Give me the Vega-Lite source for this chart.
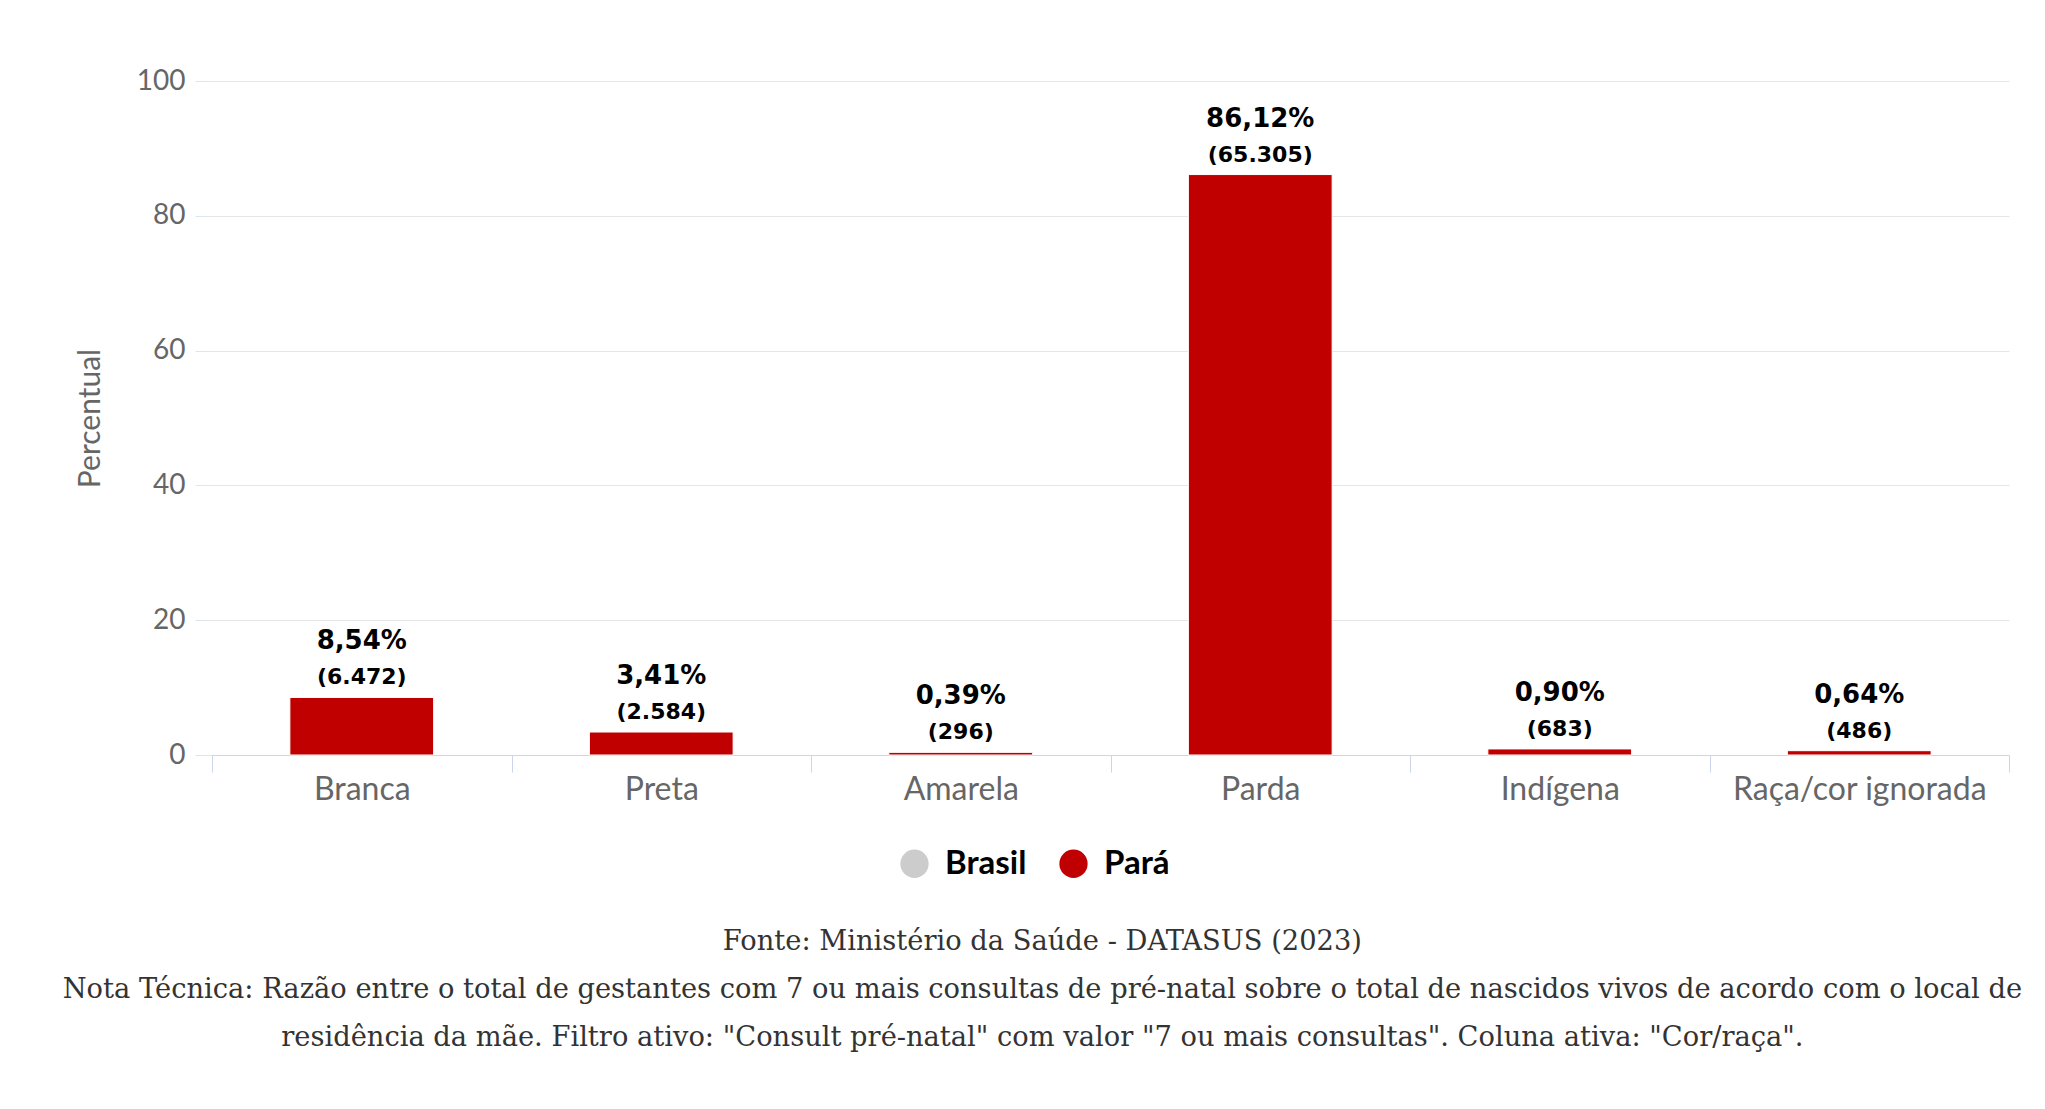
{
  "$schema": "https://vega.github.io/schema/vega-lite/v6.json",
  "width": 1797,
  "height": 674,
  "autosize": "none",
  "padding": {"left": 212, "top": 81, "right": 36, "bottom": 354},
  "background": "#ffffff",
  "config": {
    "view": {"stroke": null},
    "font": "Lato"
  },
  "title": {
    "text": "Fonte: Ministério da Saúde - DATASUS (2023)",
    "subtitle": [
      "Nota Técnica: Razão entre o total de gestantes com 7 ou mais consultas de pré-natal sobre o total de nascidos vivos de acordo com o local de",
      "residência da mãe. Filtro ativo: \"Consult pré-natal\" com valor \"7 ou mais consultas\". Coluna ativa: \"Cor/raça\"."
    ],
    "orient": "bottom",
    "anchor": "middle",
    "frame": "bounds",
    "offset": 47,
    "font": "DejaVu Serif",
    "fontSize": 27.3,
    "fontWeight": "normal",
    "color": "#333333",
    "subtitleFont": "DejaVu Serif",
    "subtitleFontSize": 27.3,
    "subtitleColor": "#333333",
    "subtitleLineHeight": 48,
    "subtitlePadding": 21
  },
  "data": {
    "values": [
      {"cor": "Branca", "serie": "Pará", "pct": 8.54, "pct_txt": "8,54%", "n_txt": "(6.472)"},
      {"cor": "Preta", "serie": "Pará", "pct": 3.41, "pct_txt": "3,41%", "n_txt": "(2.584)"},
      {"cor": "Amarela", "serie": "Pará", "pct": 0.39, "pct_txt": "0,39%", "n_txt": "(296)"},
      {"cor": "Parda", "serie": "Pará", "pct": 86.12, "pct_txt": "86,12%", "n_txt": "(65.305)"},
      {"cor": "Indígena", "serie": "Pará", "pct": 0.90, "pct_txt": "0,90%", "n_txt": "(683)"},
      {"cor": "Raça/cor ignorada", "serie": "Pará", "pct": 0.64, "pct_txt": "0,64%", "n_txt": "(486)"}
    ]
  },
  "encoding": {
    "x": {
      "field": "cor",
      "type": "nominal",
      "sort": null,
      "scale": {"paddingInner": 0, "paddingOuter": 0},
      "axis": {
        "title": null,
        "labelAngle": 0,
        "labelFont": "Lato",
        "labelFontSize": 32,
        "labelColor": "#666666",
        "labelPadding": 2,
        "labelLimit": 400,
        "tickBand": "extent",
        "tickSize": 17,
        "tickColor": "#ccd6eb",
        "domainColor": "#ccd6eb",
        "grid": false
      }
    },
    "y": {
      "field": "pct",
      "type": "quantitative",
      "scale": {"domain": [0, 100]},
      "axis": {
        "title": "Percentual",
        "titleFont": "Lato",
        "titleFontSize": 30,
        "titleFontWeight": "normal",
        "titleColor": "#666666",
        "titlePadding": 31,
        "values": [0, 20, 40, 60, 80, 100],
        "labelFont": "Lato",
        "labelFontSize": 28,
        "labelColor": "#666666",
        "labelPadding": 10,
        "domain": false,
        "tickSize": 17,
        "tickColor": "#dfe5ee",
        "gridColor": "#e6e6e6"
      }
    }
  },
  "layer": [
    {
      "mark": {"type": "bar", "width": {"band": 0.48}, "stroke": "#ffffff", "strokeWidth": 1},
      "encoding": {
        "color": {
          "field": "serie",
          "type": "nominal",
          "scale": {"domain": ["Brasil", "Pará"], "range": ["#cccccc", "#c00000"]},
          "legend": {
            "title": null,
            "orient": "none",
            "direction": "horizontal",
            "legendX": 686,
            "legendY": 766,
            "padding": 0,
            "symbolType": "circle",
            "symbolSize": 800,
            "symbolStrokeWidth": 0,
            "symbolOpacity": 1,
            "labelFont": "Lato",
            "labelFontSize": 33,
            "labelFontWeight": "bold",
            "labelOffset": 14,
            "columnPadding": 30,
            "labelLimit": 300,
            "encode": {
              "labels": {
                "update": {
                  "fill": {"signal": "datum.value === 'Brasil' ? '#cccccc' : '#333333'"}
                }
              }
            }
          }
        }
      }
    },
    {
      "mark": {"type": "text", "font": "DejaVu Sans", "fontWeight": "bold", "fontSize": 22, "baseline": "alphabetic", "dy": -13, "color": "#000000"},
      "encoding": {"text": {"field": "n_txt"}}
    },
    {
      "mark": {"type": "text", "font": "DejaVu Sans", "fontWeight": "bold", "fontSize": 26, "baseline": "alphabetic", "dy": -48, "color": "#000000"},
      "encoding": {"text": {"field": "pct_txt"}}
    }
  ]
}
